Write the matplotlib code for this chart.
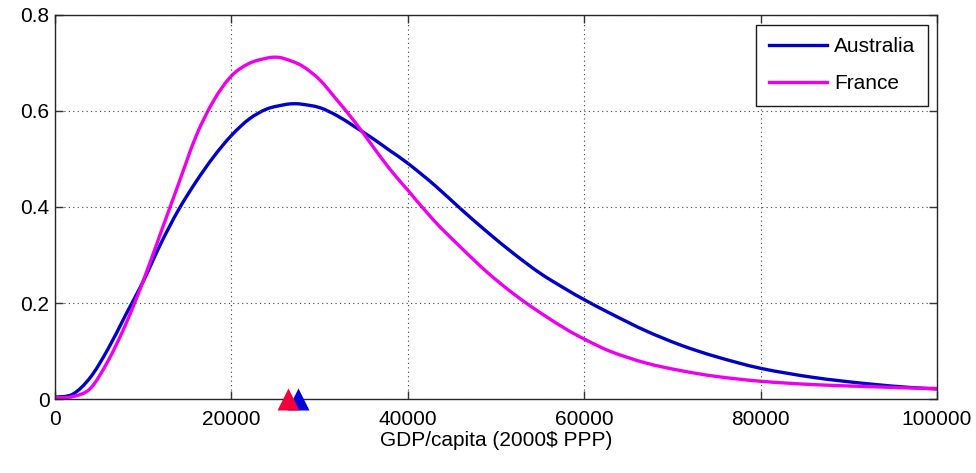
import numpy as np
import matplotlib
matplotlib.use('Agg')
import matplotlib.pyplot as plt
from matplotlib.path import Path
from matplotlib.patches import PathPatch

plt.rcParams['font.family'] = ['Liberation Sans', 'DejaVu Sans']

# GDP per capita grid (2000$ PPP) and density values for each country
aus_gdp = [0, 2000, 4000, 6000, 8000, 10000, 12000, 14000, 16000, 18000,
           20000, 22000, 24000, 26000, 27000, 28000, 30000, 32000, 34000,
           36000, 38000, 40000, 43000, 46000, 49000, 52000, 55000, 58000,
           60000, 63000, 67000, 71000, 75000, 80000, 86000, 92000, 97000, 100000]
aus_density = [0.004, 0.010, 0.045, 0.104, 0.175, 0.245, 0.324, 0.394, 0.453,
               0.505, 0.549, 0.583, 0.604, 0.613, 0.615, 0.614, 0.607, 0.590,
               0.567, 0.543, 0.517, 0.491, 0.446, 0.396, 0.348, 0.303, 0.262,
               0.228, 0.207, 0.178, 0.142, 0.112, 0.088, 0.064, 0.045, 0.032,
               0.024, 0.021]

fra_gdp = [0, 2000, 4000, 6000, 8000, 10000, 12000, 14000, 16000, 18000,
           20000, 22000, 24000, 25000, 26000, 28000, 30000, 32000, 34000,
           36000, 38000, 40000, 43000, 46000, 49000, 52000, 55000, 58000,
           60000, 63000, 67000, 71000, 75000, 80000, 86000, 92000, 97000, 100000]
fra_density = [0.003, 0.005, 0.022, 0.079, 0.155, 0.246, 0.347, 0.448, 0.548,
               0.622, 0.673, 0.699, 0.710, 0.712, 0.709, 0.694, 0.665, 0.622,
               0.577, 0.527, 0.478, 0.435, 0.371, 0.316, 0.264, 0.219, 0.180,
               0.145, 0.125, 0.099, 0.075, 0.059, 0.047, 0.037, 0.030, 0.026,
               0.023, 0.022]

# mean GDP markers on the x axis
fra_mean = 26400
aus_mean = 27500


def smooth_path(xs, ys):
    # cubic bezier through every point (catmull-rom tangents)
    p = np.column_stack([xs, ys]).astype(float)
    verts = [p[0]]
    codes = [Path.MOVETO]
    n = len(p)
    for i in range(n - 1):
        a = p[max(i - 1, 0)]
        b = p[i]
        c = p[i + 1]
        d = p[min(i + 2, n - 1)]
        verts += [b + (c - a) / 6, c - (d - b) / 6, c]
        codes += [Path.CURVE4] * 3
    return Path(verts, codes)


fig = plt.figure(figsize=(9.76, 4.73), dpi=100)
ax = fig.add_axes([0.0564, 0.1564, 0.9036, 0.812])

aus_color = '#0000c8'
fra_color = '#ee00ee'
ax.add_patch(PathPatch(smooth_path(aus_gdp, aus_density), fill=False,
                       edgecolor=aus_color, lw=2.4, capstyle='round'))
ax.add_patch(PathPatch(smooth_path(fra_gdp, fra_density), fill=False,
                       edgecolor=fra_color, lw=2.4, capstyle='round'))
# legend entries
ax.plot([], [], color=aus_color, lw=2.4, label='Australia')
ax.plot([], [], color=fra_color, lw=2.4, label='France')

ax.plot([fra_mean], [0], marker='^', ms=16, color='#f0003c', mec='none',
        clip_on=False, zorder=5)
ax.plot([aus_mean], [0], marker='^', ms=16, color='#0000dd', mec='none',
        clip_on=False, zorder=4)

ax.set_xlim(0, 100000)
ax.set_ylim(0, 0.8)
ax.set_xticks(np.arange(0, 100001, 20000))
ax.set_yticks([0, 0.2, 0.4, 0.6, 0.8])
ax.set_xticklabels(['0', '20000', '40000', '60000', '80000', '100000'])
ax.set_yticklabels(['0', '0.2', '0.4', '0.6', '0.8'])

ax.grid(True, color='0.25', linestyle=(0, (1, 3)), linewidth=0.8)
ax.tick_params(direction='in', length=6, width=1, top=True, right=True,
               labelsize=15, color='0.2')
ax.tick_params(axis='x', pad=8)
ax.tick_params(axis='y', pad=4)
for s in ax.spines.values():
    s.set_color('0.15')
    s.set_linewidth(1)

ax.set_xlabel(r'GDP/capita (2000\$ PPP)', fontsize=15, labelpad=1)

leg = ax.legend(loc='upper right', bbox_to_anchor=(0.9898, 0.974),
                fontsize=15, fancybox=False, framealpha=1, edgecolor='0.1',
                handlelength=2.8, borderpad=0.6, labelspacing=0.85,
                handletextpad=0.35, borderaxespad=0)
leg.get_frame().set_linewidth(1)

fig.savefig('out.png', dpi=100)
